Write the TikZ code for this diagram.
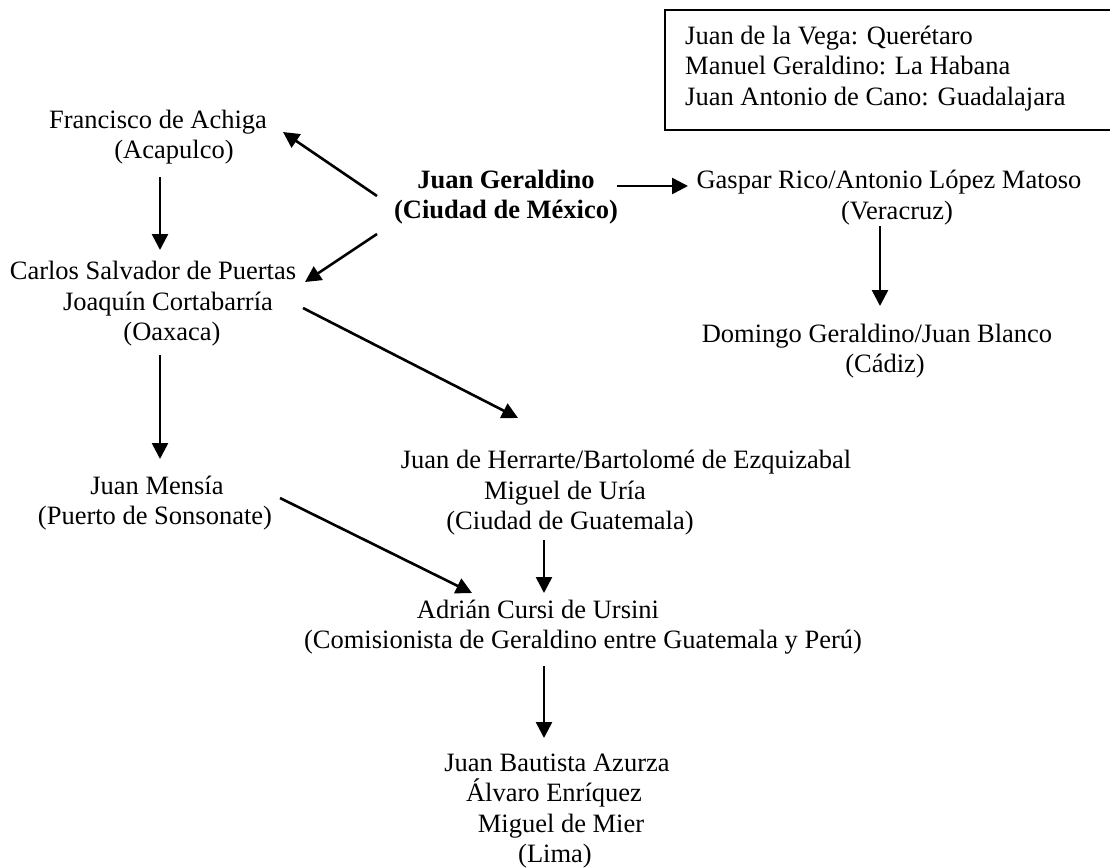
\documentclass[tikz,border=0pt]{standalone}
\usepackage{fontspec}
\setmainfont{Liberation Serif}
\usetikzlibrary{arrows.meta,calc}
\begin{document}
\begin{tikzpicture}[x=1pt,y=-1pt,
  lbl/.style={inner sep=0pt,align=center,font=\fontsize{26.5}{30.5}\selectfont},
  arr/.style={line width=2.6pt,-{Triangle[length=16pt,width=16pt]}},
  boxline/.style={line width=1.6pt}
]
\useasboundingbox (0,0) rectangle (1110,867);
% legend box
\draw[boxline] (1115,10) -- (665,10) -- (665,130) -- (1115,130);
\node[lbl,align=left,anchor=west] (leg) at (685,68.5) {Juan de la Vega: Querétaro\\Manuel Geraldino: La Habana\\Juan Antonio de Cano: Guadalajara};
% nodes
\node[lbl] (fra) at (158,137) {Francisco de Achiga\\\hspace*{32pt}(Acapulco)};
\node[lbl] (ger) at (506,197) {\bfseries Juan Geraldino\\\bfseries (Ciudad de México)};
\node[lbl] (gas) at (889,197.5) {Gaspar Rico/Antonio López Matoso\\\hspace*{16pt}(Veracruz)};
\node[lbl] (car) at (153,304) {Carlos Salvador de Puertas\\\hspace*{30pt}Joaquín Cortabarría\\\hspace*{38pt}(Oaxaca)};
\node[lbl] (dom) at (877,351) {Domingo Geraldino/Juan Blanco\\\hspace*{16pt}(Cádiz)};
\node[lbl] (men) at (155,503) {\hspace*{4pt}Juan Mensía\\(Puerto de Sonsonate)};
\node[lbl] (her) at (626,493) {Juan de Herrarte/Bartolomé de Ezquizabal\\\hspace*{-122pt}Miguel de Uría\\\hspace*{-112pt}(Ciudad de Guatemala)};
\node[lbl] (adr) at (583,627) {\hspace*{-90pt}Adrián Cursi de Ursini\\(Comisionista de Geraldino entre Guatemala y Perú)};
\node[lbl] (lim) at (557,811) {Juan Bautista Azurza\\\hspace*{-6pt}Álvaro Enríquez\\\hspace*{8pt}Miguel de Mier\\\hspace*{-4pt}(Lima)};
% connectors
\draw[arr] ($(ger)+(-129,-1)$) -- ($(fra)+(125,-5)$);
\draw[arr] ($(ger)+(-129,37)$) -- ($(car)+(152,-22)$);
\draw[arr] ($(ger)+(111,-11)$) -- ($(gas)+(-201,-11.5)$);
\draw[arr] ($(fra)+(2,40)$) -- ($(car)+(7,-54)$);
\draw[arr] ($(gas)+(-9,28.5)$) -- ($(dom)+(3,-45)$);
\draw[arr] ($(car)+(7,51)$) -- ($(men)+(5,-44)$);
\draw[arr] ($(car)+(150,4)$) -- ($(her)+(-108,-75)$);
\draw[arr] ($(men)+(125,-5)$) -- ($(adr)+(-111,-34)$);
\draw[arr] ($(her)+(-82,47)$) -- ($(adr)+(-39,-34)$);
\draw[arr] ($(adr)+(-39,39)$) -- ($(lim)+(-13,-73)$);
\end{tikzpicture}
\end{document}
